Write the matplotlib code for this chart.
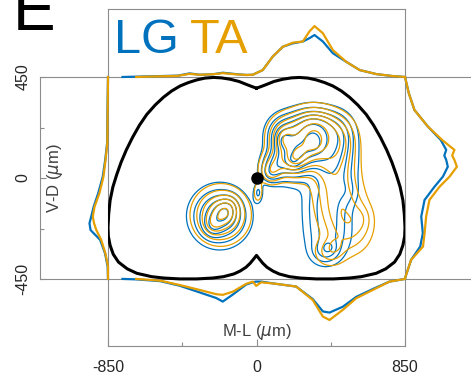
import numpy as np
import matplotlib
matplotlib.use('Agg')
import matplotlib.pyplot as plt

plt.rcParams['font.family'] = ['Liberation Sans', 'DejaVu Sans']
plt.rcParams['axes.unicode_minus'] = False
plt.rcParams['mathtext.fontset'] = 'dejavusans'

LG_COLOR = '#0072BD'
TA_COLOR = '#E69F00'
GRAY = '#8c8c8c'

# --- marginal distributions (offset from the cord edge, in um) ---
top_ml_lg = [-767, -600, -450, -383, -326, -250, -193, -120, -59, -21, 36, 93, 151, 208, 265, 303, 332, 380, 437, 513, 590, 685, 780, 850]
top_lg = [0, 3, 6, 16, 10, 12, 19, 13, 9, 10, 31, 91, 135, 150, 158, 173, 187, 158, 106, 68, 31, 13, 4, 0]
top_ml_ta = [-689, -600, -450, -383, -326, -250, -193, -120, -59, -21, 36, 93, 151, 208, 265, 303, 332, 380, 437, 513, 590, 685, 780, 850]
top_ta = [0, 2, 5, 14, 10, 12, 17, 12, 9, 10, 31, 91, 135, 153, 158, 203, 227, 195, 120, 68, 31, 13, 4, 0]

bot_ml_lg = [-767, -689, -550, -441, -326, -231, -193, -136, -59, -21, -2, 27, 113, 227, 322, 380, 418, 494, 571, 666, 761, 850]
bot_lg = [0, 2, 10, 30, 60, 85, 101, 70, 25, 15, 12, 12, 22, 34, 90, 145, 150, 124, 80, 45, 12, 0]
bot_ml_ta = [-689, -550, -441, -326, -231, -193, -136, -59, -21, -2, 27, 113, 227, 322, 380, 418, 494, 571, 666, 761, 850]
bot_ta = [0, 8, 27, 49, 68, 71, 57, 22, 12, 31, 15, 22, 34, 94, 168, 183, 138, 86, 49, 12, 0]

left_vd = [450, 300, 155, 80, 6, -68, -128, -172, -202, -232, -276, -336, -395, -450]
left_lg = [0, 3, 5, 16, 30, 56, 82, 96, 106, 100, 45, 17, 2, 0]
left_ta = [0, 2, 4, 14, 26, 49, 77, 87, 80, 67, 39, 15, 0, 0]

right_vd = [450, 377, 303, 229, 169, 125, 100, 80, 50, 6, -39, -98, -172, -247, -306, -365, -440, -450]
right_lg = [0, 22, 54, 131, 205, 236, 225, 236, 245, 217, 169, 112, 93, 102, 87, 35, 3, 0]
right_ta = [0, 22, 54, 131, 213, 283, 270, 283, 297, 255, 198, 140, 121, 112, 103, 35, 3, 0]

# --- density components for the contour maps (centre, spread, weight) ---
lg_ml = [-210, -185, -250, -150, 310, 200, 150, 330, 440, 470, 400, 410, 390, 10, 80, 100, 250, 520, 325, 210, 150, 420]
lg_vd = [-170, -160, -215, -120, 160, 80, 190, 240, 60, 190, -120, -260, -330, -65, 15, 60, 120, -60, 155, 75, 165, -310]
lg_sml = [95, 40, 35, 35, 90, 70, 60, 90, 80, 60, 80, 80, 50, 18, 40, 50, 35, 40, 35, 30, 28, 25]
lg_svd = [75, 35, 30, 30, 75, 60, 55, 45, 90, 60, 80, 70, 35, 30, 30, 40, 30, 40, 30, 25, 28, 20]
lg_w = [0.68, 0.3, 0.22, 0.12, 0.8, 0.6, 0.45, 0.4, 0.4, 0.3, 0.35, 0.3, 0.25, 0.2, 0.25, 0.3, 0.2, 0.12, 0.35, 0.25, 0.2, 0.12]

ta_ml = [-205, -180, -245, -150, 320, 210, 160, 340, 450, 480, 480, 530, 420, 10, 80, 100, 260, 600, 330, 220, 160, 450]
ta_vd = [-165, -155, -205, -120, 165, 90, 185, 235, 50, 170, -120, -230, -330, -60, 20, 60, 110, -180, 160, 85, 175, -300]
ta_sml = [88, 40, 35, 35, 90, 65, 60, 90, 80, 60, 85, 80, 55, 16, 38, 50, 35, 40, 35, 30, 28, 25]
ta_svd = [70, 35, 30, 30, 75, 55, 55, 45, 90, 60, 80, 70, 40, 28, 30, 40, 30, 40, 30, 25, 28, 20]
ta_w = [0.66, 0.3, 0.22, 0.1, 0.8, 0.55, 0.45, 0.4, 0.4, 0.3, 0.35, 0.32, 0.25, 0.18, 0.25, 0.3, 0.2, 0.12, 0.38, 0.22, 0.2, 0.12]

# --- spinal cord outline, right half from dorsal notch to ventral notch ---
cord_ml = [0, 25, 55, 100, 151, 200, 246, 295, 342, 390, 437, 485, 532, 580, 628, 670, 710, 745, 775, 800, 822, 838, 846, 850, 848, 838, 820, 790, 740, 685, 600, 532, 440, 342, 250, 189, 130, 94, 60, 36, 15, 0]
cord_vd = [400, 407, 416, 430, 440, 446, 448, 445, 437, 425, 410, 388, 360, 325, 283, 235, 180, 125, 70, 15, -40, -100, -160, -220, -260, -300, -340, -375, -405, -425, -440, -446, -450, -450, -446, -440, -428, -415, -398, -380, -360, -345]

W, H = 471, 379
fig = plt.figure(figsize=(W / 100, H / 100), dpi=100)
ax = fig.add_axes([108 / W, 1 - 346 / H, 297 / W, 337 / H])
ax.set_xlim(-850, 850)
ax.set_ylim(-749, 753)
for s in ax.spines.values():
    s.set_color(GRAY)
    s.set_linewidth(0.8)
ax.set_xticks([-850, 0, 850])
ax.set_xticklabels(['-850', '0', '850'])
ax.set_xticks([-425, 425], minor=True)
ax.tick_params(axis='x', which='major', direction='in', length=5, width=0.8,
               pad=10, labelsize=11.5, color=GRAY, labelcolor='#262626')
ax.tick_params(axis='x', which='minor', direction='in', length=3, width=0.8, color=GRAY)
ax.set_yticks([])

# separate V-D axis on the left
ax2 = fig.add_axes([40 / W, 1 - 279 / H, 0.002, 202 / H])
ax2.set_ylim(-450, 450)
ax2.patch.set_visible(False)
for k in ['top', 'right', 'bottom']:
    ax2.spines[k].set_visible(False)
ax2.spines['left'].set_color(GRAY)
ax2.spines['left'].set_linewidth(0.8)
ax2.set_xticks([])
ax2.set_yticks([-450, 0, 450])
ax2.set_yticklabels(['-450', '0', '450'], rotation=90, va='center')
ax2.set_yticks([-225, 225], minor=True)
ax2.tick_params(axis='y', which='major', direction='in', length=4, width=0.8,
                pad=7, labelsize=11.5, color=GRAY, labelcolor='#262626')
ax2.tick_params(axis='y', which='minor', direction='in', length=3, width=0.8, color=GRAY)

# horizontal guide lines at the cord's dorsal / ventral limits
x0 = (40 - 108) / 297
x1 = (471 - 108) / 297
for v in (450, -450):
    ax.plot([x0, x1], [v, v], color=GRAY, lw=0.8, transform=ax.get_yaxis_transform(),
            clip_on=False, zorder=1)

# contour maps
gml, gvd = np.meshgrid(np.linspace(-850, 850, 340), np.linspace(-450, 450, 180))
def density(ml, vd, sml, svd, w):
    z = np.zeros_like(gml)
    for m, v, sm, sv, ww in zip(ml, vd, sml, svd, w):
        z += ww * np.exp(-0.5 * (((gml - m) / sm) ** 2 + ((gvd - v) / sv) ** 2))
    return z

z_lg = density(lg_ml, lg_vd, lg_sml, lg_svd, lg_w)
z_ta = density(ta_ml, ta_vd, ta_sml, ta_svd, ta_w)
levels = np.array([0.09, 0.2, 0.34, 0.5, 0.68, 0.9, 1.15])
ax.contour(gml, gvd, z_lg, levels=levels, colors=LG_COLOR, linewidths=0.9, zorder=3)
ax.contour(gml, gvd, z_ta, levels=levels, colors=TA_COLOR, linewidths=0.9, zorder=3)

# cord outline
cml = np.array(cord_ml)
cvd = np.array(cord_vd)
ax.plot(np.concatenate([cml, -cml[::-1]]), np.concatenate([cvd, cvd[::-1]]),
        color='k', lw=2.2, zorder=4, solid_joinstyle='round')
ax.plot([0], [0], 'o', color='k', ms=8, zorder=5)

# marginals
for col, tml, tv, bml, bv, lv, rv in [
        (LG_COLOR, top_ml_lg, top_lg, bot_ml_lg, bot_lg, left_lg, right_lg),
        (TA_COLOR, top_ml_ta, top_ta, bot_ml_ta, bot_ta, left_ta, right_ta)]:
    kw = dict(color=col, lw=1.6, clip_on=False, zorder=6, solid_joinstyle='round')
    ax.plot(tml, 450 + np.array(tv), **kw)
    ax.plot(bml, -450 - np.array(bv), **kw)
    ax.plot(-850 - np.array(lv), left_vd, **kw)
    ax.plot(850 + np.array(rv), right_vd, **kw)

ax.text(0, -686, r'M-L ($\mu$m)', ha='center', va='center', fontsize=12, color='#404040')
fig.text(55 / W, 1 - 178 / H, r'V-D ($\mu$m)', rotation=90, ha='center', va='center',
         fontsize=12, color='#404040')

fig.text(13 / W, 1 - 30.5 / H, 'E', fontsize=46, va='baseline', ha='left')
fig.text(114 / W, 1 - 53 / H, 'LG', fontsize=35, va='baseline', ha='left', color=LG_COLOR)
fig.text(190 / W, 1 - 53 / H, 'TA', fontsize=35, va='baseline', ha='left', color=TA_COLOR)

fig.savefig('out.png', dpi=100)
